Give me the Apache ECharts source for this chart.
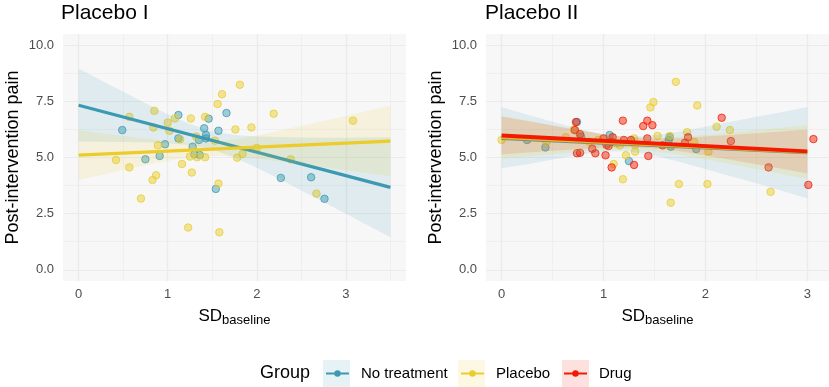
<!DOCTYPE html>
<html>
<head>
<meta charset="utf-8">
<script src="https://cdn.jsdelivr.net/npm/echarts@6/dist/echarts.min.js"></script>
<style>
  html, body { margin: 0; padding: 0; background: #fff; }
  #chart { width: 829px; height: 387px; }
</style>
</head>
<body>
<div id="chart"></div>
<script>
(function () {
  "use strict";
  const FONT = "Liberation Sans";
  const GROUPS = ["No treatment", "Placebo", "Drug"];
  const COLORS = ["#3B9AB2", "#EBCC2A", "#F21A00"];

  // ---- Placebo I ----
  const p1NoTreatPts = [
    [0.49, 6.22], [0.75, 4.92], [0.91, 5.07], [0.97, 5.59], [1.12, 6.89], [1.12, 5.85],
    [1.28, 5.48], [1.30, 5.14], [1.35, 5.78], [1.36, 5.11], [1.41, 6.30], [1.43, 6.00],
    [1.43, 5.85], [1.46, 6.73], [1.57, 6.19], [1.66, 6.98], [1.54, 3.60], [2.27, 4.09],
    [2.61, 4.12], [2.76, 3.16],
  ];
  const p1PlaceboPts = [
    [0.42, 4.89], [0.57, 6.81], [0.57, 4.56], [0.70, 3.17], [0.83, 4.00], [0.87, 4.21],
    [0.85, 7.08], [0.84, 6.34], [0.89, 5.54], [1.00, 6.55], [1.02, 6.19], [1.08, 6.74],
    [1.14, 5.81], [1.16, 4.71], [1.26, 6.74], [1.27, 4.33], [1.23, 1.88], [1.25, 5.04],
    [1.33, 5.01], [1.42, 6.81], [1.42, 5.01], [1.53, 5.75], [1.56, 7.38], [1.61, 7.82],
    [1.81, 8.24], [1.57, 3.84], [1.58, 1.67], [1.76, 6.25], [1.78, 4.99], [1.84, 5.16],
    [1.94, 6.34], [2.00, 5.42], [2.19, 6.95], [2.38, 4.92], [2.67, 3.39], [3.08, 6.64],
    [1.32, 5.93],
  ];
  const p1BandX = [0, 0.25, 0.5, 0.75, 1, 1.25, 1.5, 1.75, 2, 2.25, 2.5, 2.75, 3, 3.25, 3.5];
  const p1NoTreatLo = [5.70, 5.70, 5.69, 5.68, 5.64, 5.56, 5.36, 5.00, 4.54, 4.05, 3.53, 3.02, 2.50, 1.97, 1.45];
  const p1NoTreatHi = [8.96, 8.44, 7.93, 7.42, 6.93, 6.49, 6.16, 6.00, 5.94, 5.91, 5.89, 5.88, 5.88, 5.89, 5.89];
  const p1PlaceboLo = [4.00, 4.22, 4.44, 4.65, 4.85, 5.00, 5.08, 5.04, 4.94, 4.83, 4.70, 4.57, 4.43, 4.30, 4.16];
  const p1PlaceboHi = [6.22, 6.08, 5.96, 5.83, 5.73, 5.66, 5.68, 5.80, 5.98, 6.19, 6.40, 6.63, 6.85, 7.08, 7.30];
  const p1NoTreatLine = [[0, 7.33], [3.5, 3.67]];
  const p1PlaceboLine = [[0, 5.11], [3.5, 5.73]];

  // ---- Placebo II ----
  const p2NoTreatPts = [
    [0.25, 5.78], [0.43, 5.45], [0.74, 6.58], [0.78, 5.93], [1.06, 6.00], [1.25, 4.84],
    [1.64, 5.78], [1.65, 5.90], [1.66, 5.48], [1.91, 5.38],
  ];
  const p2PlaceboPts = [
    [0.00, 5.78], [0.44, 5.70], [0.63, 5.90], [0.71, 6.25], [0.86, 5.70], [0.95, 5.78],
    [1.10, 4.71], [1.13, 5.63], [1.16, 5.54], [1.19, 4.03], [1.22, 5.10], [1.30, 5.85],
    [1.31, 5.56], [1.31, 5.26], [1.46, 7.23], [1.49, 7.47], [1.53, 5.96], [1.65, 5.96],
    [1.66, 2.99], [1.71, 8.37], [1.74, 3.82], [1.82, 6.13], [1.89, 5.69], [1.92, 7.32],
    [2.02, 3.82], [2.03, 5.26], [2.11, 6.37], [2.24, 6.22], [2.64, 3.47],
  ];
  const p2DrugPts = [
    [0.72, 6.22], [0.73, 6.58], [0.74, 5.19], [0.77, 5.21], [0.77, 6.04], [0.89, 5.39],
    [0.92, 5.19], [1.00, 5.85], [1.02, 5.10], [1.03, 5.56], [1.05, 5.51], [1.08, 5.70],
    [1.09, 5.90], [1.08, 4.56], [1.19, 6.64], [1.20, 5.78], [1.27, 5.78], [1.30, 4.67],
    [1.39, 6.40], [1.43, 6.64], [1.43, 5.85], [1.44, 5.07], [1.48, 6.44], [1.58, 5.54],
    [1.80, 5.66], [1.83, 5.90], [2.16, 6.77], [2.25, 5.73], [2.62, 4.56], [3.01, 3.78],
    [3.06, 5.82],
  ];
  const p2BandX = [0, 0.25, 0.5, 0.75, 1, 1.25, 1.5, 1.75, 2, 2.25, 2.5, 2.75, 3];
  const p2NoTreatLo = [4.52, 4.70, 4.91, 5.11, 5.27, 5.28, 5.09, 4.80, 4.49, 4.17, 3.85, 3.52, 3.19];
  const p2NoTreatHi = [7.25, 6.90, 6.59, 6.28, 6.01, 5.90, 5.99, 6.16, 6.37, 6.59, 6.81, 7.02, 7.25];
  const p2PlaceboLo = [4.95, 5.05, 5.15, 5.26, 5.34, 5.37, 5.28, 5.12, 4.92, 4.71, 4.49, 4.27, 4.04];
  const p2PlaceboHi = [6.85, 6.65, 6.43, 6.22, 6.02, 5.89, 5.86, 5.92, 6.00, 6.11, 6.21, 6.33, 6.44];
  const p2DrugLo = [5.13, 5.22, 5.30, 5.37, 5.44, 5.46, 5.41, 5.28, 5.09, 4.90, 4.70, 4.50, 4.29];
  const p2DrugHi = [6.83, 6.62, 6.42, 6.23, 6.04, 5.90, 5.83, 5.86, 5.93, 6.00, 6.08, 6.16, 6.25];
  const p2NoTreatLine = [[0, 5.85], [3, 5.22]];
  const p2PlaceboLine = [[0, 5.90], [3, 5.24]];
  const p2DrugLine = [[0, 5.98], [3, 5.27]];

  // axes
  const yTicks = [0, 2.5, 5, 7.5, 10];
  const yMinor = [1.25, 3.75, 6.25, 8.75];
  const p1XTicks = [0, 1, 2, 3];
  const p1XMinor = [0.5, 1.5, 2.5, 3.5];
  const p2XTicks = [0, 1, 2, 3];
  const p2XMinor = [0.5, 1.5, 2.5];

  const rgba = (hex, a) => {
    const n = parseInt(hex.slice(1), 16);
    return `rgba(${(n >> 16) & 255},${(n >> 8) & 255},${n & 255},${a})`;
  };

  const chart = echarts.init(document.getElementById("chart"));
  const grid = (left) => ({ left, top: 34, width: 343, height: 247, show: true, backgroundColor: "#F7F7F7", borderWidth: 0, outerBoundsMode: "none", containLabel: false });
  const major = { show: true, lineStyle: { color: "#EBEBEB", width: 1.2 } };
  const minor = { show: true, lineStyle: { color: "#EBEBEB", width: 0.7 } };

  function xAxes(gi, min, max, ticks, minors) {
    return [
      {
        type: "value", gridIndex: gi, min, max, position: "bottom",
        axisLine: { show: false }, axisTick: { show: false, customValues: ticks },
        axisLabel: { customValues: ticks, color: "#4D4D4D", fontSize: 13, margin: 7, fontFamily: FONT },
        splitLine: major,
        name: "{a|SD}{b|baseline}", nameLocation: "middle", nameGap: 23,
        nameTextStyle: {
          color: "#000",
          rich: {
            a: { fontSize: 17, lineHeight: 20, fontFamily: FONT, color: "#000" },
            b: { fontSize: 13, lineHeight: 14, padding: [8, 0, 0, 0], fontFamily: FONT, color: "#000" },
          },
        },
      },
      {
        type: "value", gridIndex: gi, min, max, position: "top",
        axisLine: { show: false }, axisTick: { show: false, customValues: minors },
        axisLabel: { show: false }, splitLine: minor,
      },
    ];
  }

  function yAxes(gi) {
    return [
      {
        type: "value", gridIndex: gi, min: -0.5, max: 10.5, position: "left",
        axisLine: { show: false }, axisTick: { show: false, customValues: yTicks },
        axisLabel: { customValues: yTicks, formatter: v => (+v).toFixed(1), color: "#4D4D4D", fontSize: 13, margin: 9, fontFamily: FONT },
        splitLine: major,
        name: "Post-intervention pain", nameLocation: "middle", nameGap: 41,
        nameTextStyle: { fontSize: 18, color: "#000", fontFamily: FONT },
      },
      {
        type: "value", gridIndex: gi, min: -0.5, max: 10.5, position: "right",
        axisLine: { show: false }, axisTick: { show: false, customValues: yMinor },
        axisLabel: { show: false }, splitLine: minor,
      },
    ];
  }

  const ax = gi => ({ xAxisIndex: gi * 2, yAxisIndex: gi * 2 });

  function line(g, data, gi, z, width) {
    return { type: "line", name: GROUPS[g], data, symbol: "none", silent: true, z, ...ax(gi),
      lineStyle: { color: COLORS[g], width: width || 3.2 }, itemStyle: { color: COLORS[g] } };
  }

  function band(g, xs, lo, hi, gi, z, alpha) {
    return {
      type: "custom", name: GROUPS[g], silent: true, z, ...ax(gi),
      data: xs.map((x, i) => [x, lo[i], hi[i]]),
      encode: { x: 0, y: [1, 2] },
      renderItem(params, api) {
        if (params.dataIndexInside !== 0) return;
        const n = params.dataInsideLength;
        const top = [], bot = [];
        for (let i = 0; i < n; i++) {
          top.push(api.coord([api.value(0, i), api.value(2, i)]));
          bot.push(api.coord([api.value(0, i), api.value(1, i)]));
        }
        return { type: "polygon", shape: { points: top.concat(bot.reverse()) }, style: { fill: rgba(COLORS[g], alpha || 0.13) } };
      },
    };
  }

  function pts(g, data, gi) {
    return { type: "scatter", name: GROUPS[g], data, symbolSize: 7.5, silent: true, z: 2, ...ax(gi),
      itemStyle: { color: rgba(COLORS[g], 0.6), borderColor: rgba(COLORS[g], 0.95), borderWidth: 1 } };
  }

  const LEGEND_X = [325, 460, 563];
  const BOX_X = [323, 458, 562];

  chart.setOption({
    animation: false,
    textStyle: { fontFamily: FONT },
    title: [
      { text: "Placebo I", left: 61, top: 3, padding: 0, textStyle: { fontSize: 21, fontWeight: "normal", color: "#000", fontFamily: FONT } },
      { text: "Placebo II", left: 485, top: 3, padding: 0, textStyle: { fontSize: 21, fontWeight: "normal", color: "#000", fontFamily: FONT } },
    ],
    grid: [grid(63), grid(486)],
    xAxis: [...xAxes(0, -0.175, 3.675, p1XTicks, p1XMinor), ...xAxes(1, -0.153, 3.213, p2XTicks, p2XMinor)],
    yAxis: [...yAxes(0), ...yAxes(1)],
    legend: GROUPS.map((g, i) => ({
      data: [g], left: LEGEND_X[i], top: 366, padding: 0, itemWidth: 23, itemHeight: 8,
      selectedMode: false, textStyle: { fontSize: 15, color: "#000", fontFamily: FONT, padding: [0, 0, 0, 7] },
    })),
    graphic: [
      { type: "text", left: 260, top: 364, style: { text: "Group", fontSize: 18, fill: "#000", fontFamily: FONT } },
      ...BOX_X.map((x, i) => ({ type: "rect", shape: { x, y: 360, width: 27, height: 27 }, style: { fill: rgba(COLORS[i], 0.13) } })),
    ],
    series: [
      line(0, p1NoTreatLine, 0, 4),
      line(1, p1PlaceboLine, 0, 6),
      line(0, p2NoTreatLine, 1, 4),
      line(1, p2PlaceboLine, 1, 6),
      line(2, p2DrugLine, 1, 8, 3.8),
      band(0, p1BandX, p1NoTreatLo, p1NoTreatHi, 0, 3),
      band(1, p1BandX, p1PlaceboLo, p1PlaceboHi, 0, 5),
      band(0, p2BandX, p2NoTreatLo, p2NoTreatHi, 1, 3),
      band(1, p2BandX, p2PlaceboLo, p2PlaceboHi, 1, 5, 0.16),
      band(2, p2BandX, p2DrugLo, p2DrugHi, 1, 7, 0.12),
      pts(0, p1NoTreatPts, 0),
      pts(1, p1PlaceboPts, 0),
      pts(0, p2NoTreatPts, 1),
      pts(1, p2PlaceboPts, 1),
      pts(2, p2DrugPts, 1),
    ],
  });

  window.addEventListener("resize", () => chart.resize());
})();
</script>
</body>
</html>
